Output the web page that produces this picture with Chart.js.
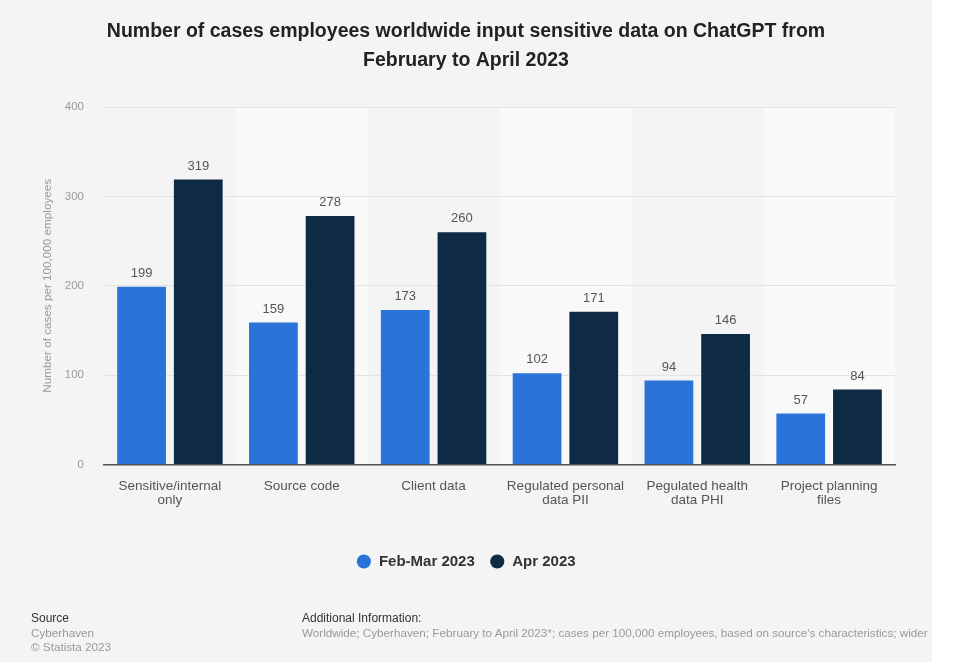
<!DOCTYPE html>
<html>
<head>
<meta charset="utf-8">
<script src="https://cdn.jsdelivr.net/npm/chart.js@4.4.0/dist/chart.umd.min.js"></script>
<style>
  html, body { margin:0; padding:0; background:#ffffff; }
  #wrap { position:relative; width:932px; height:662px; background:#f4f4f4; overflow:hidden; }
  #c { position:absolute; left:0; top:0; }
  .foot { position:absolute; font-family:"Liberation Sans", Arial, sans-serif; font-size:11.7px; white-space:nowrap; line-height:14.5px; }
  .foot b { font-weight:normal; color:#333; font-size:12px; }
  .foot span { color:#999; }
</style>
</head>
<body>
<div id="wrap">
  <canvas id="c" width="932" height="662"></canvas>
  <div class="foot" style="left:31px; top:611px;"><b>Source</b><br><span>Cyberhaven</span><br><span>© Statista 2023</span></div>
  <div class="foot" style="left:302px; top:611px; width:630px; overflow:hidden;"><b>Additional Information:</b><br><span>Worldwide; Cyberhaven; February to April 2023*; cases per 100,000 employees, based on source's characteristics; wider</span></div>
</div>
<script>
const categories = [
  ["Sensitive/internal", "only"],
  "Source code",
  "Client data",
  ["Regulated personal", "data PII"],
  ["Pegulated health", "data PHI"],
  ["Project planning", "files"]
];
const seriesNames = ["Feb-Mar 2023", "Apr 2023"];
const febMar = [199, 159, 173, 102, 94, 57];
const apr = [319, 278, 260, 171, 146, 84];
const yTicks = [0, 100, 200, 300, 400];

const FONT = '"Liberation Sans", Arial, sans-serif';

const bgPlugin = {
  id: 'bands',
  beforeDraw(chart) {
    const ctx = chart.ctx, a = chart.chartArea, x = chart.scales.x;
    ctx.save();
    ctx.fillStyle = '#f4f4f4';
    ctx.fillRect(0, 0, chart.width, chart.height);
    const n = categories.length;
    const w = (a.right - a.left) / n;
    ctx.fillStyle = '#f9f9f9';
    for (let i = 0; i < n; i++) {
      if (i % 2 === 1) {
        const cx = x.getPixelForValue(i);
        ctx.fillRect(cx - w / 2, a.top, w, a.bottom - a.top);
      }
    }
    ctx.restore();
  }
};

const labelPlugin = {
  id: 'valueLabels',
  afterDatasetsDraw(chart) {
    const ctx = chart.ctx;
    ctx.save();
    ctx.font = '13px ' + FONT;
    ctx.fillStyle = '#555555';
    ctx.textAlign = 'center';
    ctx.textBaseline = 'bottom';
    chart.data.datasets.forEach((ds, di) => {
      const meta = chart.getDatasetMeta(di);
      meta.data.forEach((bar, i) => {
        ctx.fillText(String(ds.data[i]), bar.x, bar.y - 7);
      });
    });
    ctx.restore();
  }
};

new Chart(document.getElementById('c'), {
  type: 'bar',
  data: {
    labels: categories,
    datasets: [
      { label: seriesNames[0], data: febMar, backgroundColor: '#2a74d9' },
      { label: seriesNames[1], data: apr, backgroundColor: '#0f2a44' }
    ]
  },
  options: {
    responsive: false,
    animation: false,
    devicePixelRatio: 1,
    layout: { padding: { left: 0, right: 0, top: 0, bottom: 83 } },
    datasets: { bar: { categoryPercentage: 0.86, barPercentage: 0.86 } },
    plugins: {
      title: {
        display: true,
        text: ['Number of cases employees worldwide input sensitive data on ChatGPT from', 'February to April 2023'],
        font: { family: FONT, size: 19.5, weight: 'bold', lineHeight: 1.49 },
        color: '#222222',
        padding: { top: 17.5, bottom: 31.5 }
      },
      legend: {
        display: true,
        position: 'bottom',
        labels: {
          usePointStyle: true,
          pointStyle: 'circle',
          boxWidth: 15,
          boxHeight: 10,
          padding: 15,
          color: '#333333',
          font: { family: FONT, size: 15, weight: 'bold' }
        }
      },
      tooltip: { enabled: false }
    },
    scales: {
      x: {
        afterFit(scale) { scale.height = 74.5; },
        grid: { display: false },
        border: { display: true, color: '#555555', width: 1.5 },
        ticks: {
          color: '#555555',
          padding: 7,
          maxRotation: 0,
          autoSkip: false,
          font: { family: FONT, size: 13.5, lineHeight: 1.05 }
        }
      },
      y: {
        min: 0, max: 400,
        afterFit(scale) { scale.width = 104; },
        afterBuildTicks(scale) { scale.ticks = yTicks.map(v => ({ value: v })); },
        grid: { color: '#e3e3e3', drawTicks: false, lineWidth: 1 },
        border: { display: false },
        ticks: {
          color: '#999999',
          padding: 20,
          font: { family: FONT, size: 11.5 }
        },
        title: {
          display: true,
          text: 'Number of cases per 100,000 employees',
          color: '#999999',
          font: { family: FONT, size: 11.7 },
          padding: { top: 41, bottom: 0 }
        }
      },
      yRight: {
        type: 'linear',
        position: 'right',
        display: true,
        afterFit(scale) { scale.width = 37; },
        grid: { display: false, drawTicks: false },
        border: { display: false },
        ticks: { display: false }
      }
    }
  },
  plugins: [bgPlugin, labelPlugin]
});
</script>
</body>
</html>
